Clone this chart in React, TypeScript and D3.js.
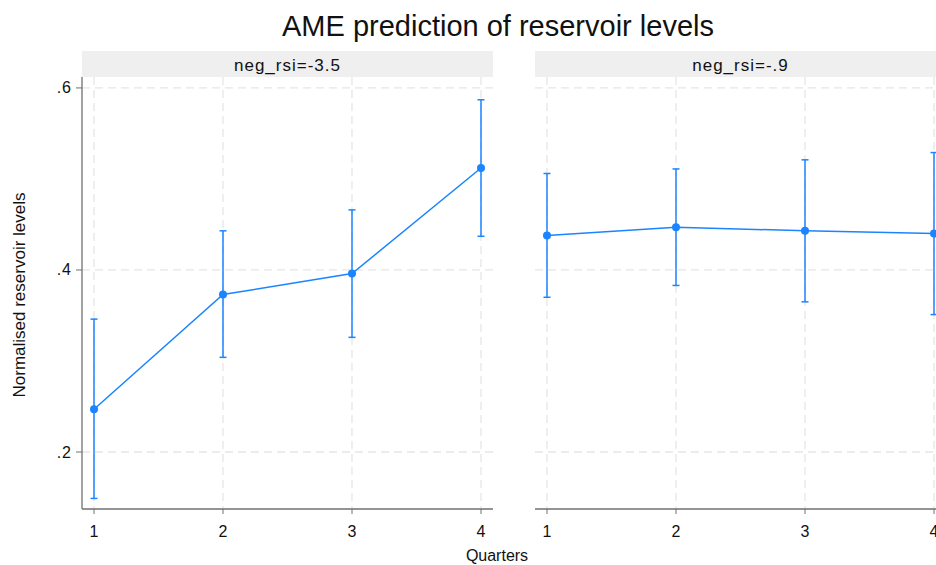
import React from "react";
import * as d3 from "d3";

const quarters = [1, 2, 3, 4];
const panelLabels = ["neg_rsi=-3.5", "neg_rsi=-.9"];
const leftMean = [0.247, 0.373, 0.396, 0.512];
const leftLow = [0.149, 0.304, 0.326, 0.437];
const leftHigh = [0.346, 0.443, 0.466, 0.587];
const rightMean = [0.438, 0.447, 0.443, 0.44];
const rightLow = [0.37, 0.383, 0.365, 0.351];
const rightHigh = [0.506, 0.511, 0.521, 0.529];
const yTicks = [0.2, 0.4, 0.6];
const yTickLabels = [".2", ".4", ".6"];

const W = 936;
const H = 565;
const FONT = "'Liberation Sans', Arial, sans-serif";
const BLUE = "#1a85ff";
const GRID = "#e6e6e6";
const AXIS = "#707070";

const plotTop = 77;
const plotBottom = 509;
const panelWidth = 411;
const panelLefts = [82, 535];

const y = d3.scaleLinear().domain([0.1374, 0.612]).range([plotBottom, plotTop]);

function Panel({ idx, mean, low, high }: { idx: number; mean: number[]; low: number[]; high: number[] }) {
  const left = panelLefts[idx];
  const x = d3.scaleLinear().domain([1, 4]).range([left + 12, left + panelWidth - 12]);
  const line = d3
    .line<number>()
    .x((_, i) => x(quarters[i]))
    .y((d) => y(d));
  return (
    <g>
      <rect x={left} y={51} width={panelWidth} height={26} fill="#efefef" />
      <text x={left + panelWidth / 2} y={71} textAnchor="middle" fontSize={17} letterSpacing={1} fontFamily={FONT} fill="#111">
        {panelLabels[idx]}
      </text>
      {yTicks.map((t) => (
        <line key={"h" + t} x1={left} x2={left + panelWidth} y1={y(t)} y2={y(t)} stroke={GRID} strokeWidth={1.3} strokeDasharray="8,5" />
      ))}
      {quarters.map((q) => (
        <line key={"v" + q} x1={x(q)} x2={x(q)} y1={plotTop} y2={plotBottom} stroke={GRID} strokeWidth={1.3} strokeDasharray="8,5" />
      ))}
      <line x1={left} x2={left + panelWidth} y1={plotBottom} y2={plotBottom} stroke={AXIS} strokeWidth={1.3} />
      {quarters.map((q) => (
        <g key={"xt" + q}>
          <line x1={x(q)} x2={x(q)} y1={plotBottom} y2={plotBottom + 5} stroke={AXIS} strokeWidth={1} />
          <text x={x(q)} y={537} textAnchor="middle" fontSize={16} fontFamily={FONT} fill="#111">
            {q}
          </text>
        </g>
      ))}
      {quarters.map((q, i) => (
        <g key={"e" + q}>
          <line x1={x(q)} x2={x(q)} y1={y(low[i])} y2={y(high[i])} stroke={BLUE} strokeWidth={1.5} />
          <line x1={x(q) - 3.5} x2={x(q) + 3.5} y1={y(low[i])} y2={y(low[i])} stroke={BLUE} strokeWidth={1.5} />
          <line x1={x(q) - 3.5} x2={x(q) + 3.5} y1={y(high[i])} y2={y(high[i])} stroke={BLUE} strokeWidth={1.5} />
        </g>
      ))}
      <path d={line(mean) || ""} fill="none" stroke={BLUE} strokeWidth={1.5} />
      {quarters.map((q, i) => (
        <circle key={"p" + q} cx={x(q)} cy={y(mean[i])} r={4} fill={BLUE} />
      ))}
    </g>
  );
}

export default function App() {
  return (
    <svg width={W} height={H} style={{ position: "absolute", left: 0, top: 0, overflow: "hidden", background: "#fff" }}>
      <rect width={W} height={H} fill="#fff" />
      <text x={498} y={36} textAnchor="middle" fontSize={29} fontFamily={FONT} fill="#111">
        AME prediction of reservoir levels
      </text>
      <Panel idx={0} mean={leftMean} low={leftLow} high={leftHigh} />
      <Panel idx={1} mean={rightMean} low={rightLow} high={rightHigh} />
      <line x1={82} x2={82} y1={plotTop} y2={plotBottom} stroke={AXIS} strokeWidth={1.3} />
      {yTicks.map((t, i) => (
        <g key={"yt" + t}>
          <line x1={76} x2={82} y1={y(t)} y2={y(t)} stroke={AXIS} strokeWidth={1} />
          <text x={72} y={y(t) + 5.5} textAnchor="end" fontSize={16} letterSpacing={1} fontFamily={FONT} fill="#111">
            {yTickLabels[i]}
          </text>
        </g>
      ))}
      <text
        transform="translate(25,295) rotate(-90)"
        textAnchor="middle"
        fontSize={17}
        fontFamily={FONT}
        fill="#111"
      >
        Normalised reservoir levels
      </text>
      <text x={497} y={561} textAnchor="middle" fontSize={16} fontFamily={FONT} fill="#111">
        Quarters
      </text>
    </svg>
  );
}
